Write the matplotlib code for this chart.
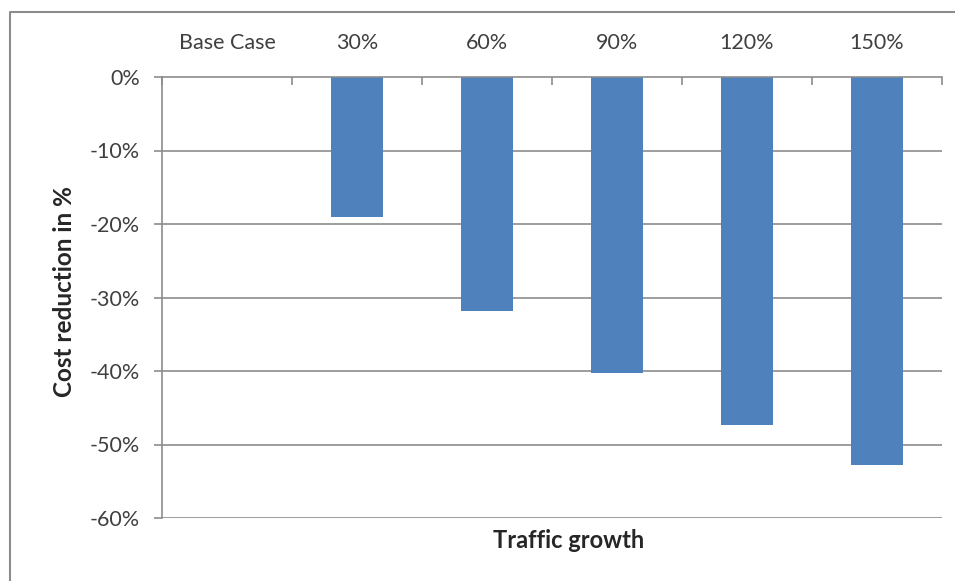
import matplotlib
matplotlib.use("Agg")
import matplotlib.pyplot as plt
from matplotlib.lines import Line2D
import numpy as np

categories = ["Base Case", "30%", "60%", "90%", "120%", "150%"]
values = [0.0, -19.0, -31.8, -40.3, -47.4, -52.8]
yticks = [0, -10, -20, -30, -40, -50, -60]
ytick_labels = ["0%", "-10%", "-20%", "-30%", "-40%", "-50%", "-60%"]

W, H = 955, 581
plt.rcParams['font.family'] = ['Lato', 'DejaVu Sans']
fig = plt.figure(figsize=(W / 100, H / 100), dpi=100)
fig.patch.set_facecolor("white")

left, right, top, bottom = 162, 942, 77, 518
ax = fig.add_axes([left / W, 1 - bottom / H, (right - left) / W, (bottom - top) / H])

grid_c = "#8c8c8c"
text_c = "#404040"
bar_c = "#4f81bd"

x = np.arange(len(categories))
ax.bar(x, values, width=0.4, color=bar_c, zorder=3)

ax.set_xlim(-0.5, len(categories) - 0.5)
ax.set_ylim(-60, 0)
ax.set_yticks(yticks)
ax.set_yticklabels(ytick_labels)
for yv in yticks[1:]:
    ax.axhline(yv, color=grid_c, lw=1.2, zorder=1)

for s in ["right", "bottom"]:
    ax.spines[s].set_visible(False)
ax.spines["left"].set_color(grid_c)
ax.spines["left"].set_linewidth(1.2)
ax.spines["top"].set_color(grid_c)
ax.spines["top"].set_linewidth(1.2)
ax.spines["top"].set_zorder(4)

fs = 15.5
ax.xaxis.tick_top()
ax.set_xticks(x)
ax.set_xticklabels(categories)
ax.set_xticks(np.arange(len(categories) + 1) - 0.5, minor=True)
ax.tick_params(axis="x", which="major", length=0, pad=17, labelsize=fs, labelcolor=text_c)
ax.tick_params(axis="x", which="minor", length=6, width=1.2, direction="in", color=grid_c, top=True, bottom=False)
ax.tick_params(axis="y", which="major", length=6, width=1.2, color=grid_c, labelsize=fs, labelcolor=text_c, pad=10)

fig.text(569 / W, 1 - 540 / H, "Traffic growth", ha="center", va="center",
         fontsize=17, fontweight="bold", color="#262626")
fig.text(64 / W, 1 - 292 / H, "Cost reduction in %", ha="center", va="center",
         rotation=90, fontsize=17.5, fontweight="bold", color="#262626")

fig.add_artist(Line2D([9.5 / W, 9.5 / W, 1.0], [0.0, 1 - 11.5 / H, 1 - 11.5 / H],
                      transform=fig.transFigure, color="#8c8c8c", lw=1.5))

fig.savefig("out.png", dpi=100, facecolor="white")
